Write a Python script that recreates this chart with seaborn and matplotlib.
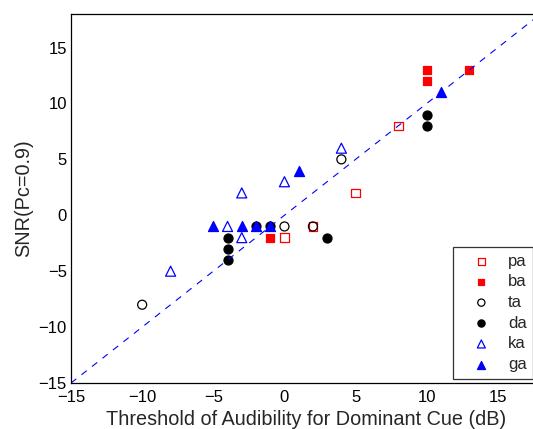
import matplotlib
matplotlib.use("Agg")
import matplotlib.pyplot as plt
import seaborn as sns
import pandas as pd
import numpy as np

sns.set_theme(style="white")
plt.rcParams['font.family'] = ['Liberation Sans', 'DejaVu Sans']

pa_x = [0, 2, 5, 8]
pa_y = [-2, -1, 2, 8]
ba_x = [-1, 10, 10, 13]
ba_y = [-2, 13, 12, 13]
ta_x = [-10, 0, 2, 4]
ta_y = [-8, -1, -1, 5]
da_x = [-4, -4, -4, -2, -1, 3, 10, 10]
da_y = [-2, -3, -4, -1, -1, -2, 9, 8]
ka_x = [-8, -4, -3, -3, 0, 4]
ka_y = [-5, -1, 2, -2, 3, 6]
ga_x = [-5, -3, -2, -1, 1, 11]
ga_y = [-1, -1, -1, -1, 4, 11]
diag = [-15, 18]

series = [
    ("pa", pa_x, pa_y, "s", "red", False),
    ("ba", ba_x, ba_y, "s", "red", True),
    ("ta", ta_x, ta_y, "o", "black", False),
    ("da", da_x, da_y, "o", "black", True),
    ("ka", ka_x, ka_y, "^", "blue", False),
    ("ga", ga_x, ga_y, "^", "blue", True),
]
sizes = {"s": 38, "o": 42, "^": 52}

fig = plt.figure(figsize=(5.33, 4.29), dpi=100)
ax_w = 33 * 14.23
ax = fig.add_axes([71/533, 46/429, ax_w/533, 369/429])

sns.lineplot(x=diag, y=diag, ax=ax, color="blue", linestyle=(0, (6, 6)), linewidth=0.8, legend=False)

for name, xs, ys, m, c, filled in series:
    df = pd.DataFrame({"x": xs, "y": ys})
    sns.scatterplot(data=df, x="x", y="y", ax=ax, marker=m, s=sizes[m],
                    facecolor=(c if filled else "none"), edgecolor=c,
                    linewidth=0.9, label=name)

ax.set_xlim(-15, 18)
ax.set_ylim(-15, 18)
ax.set_xticks([-15, -10, -5, 0, 5, 10, 15])
ax.set_yticks([-15, -10, -5, 0, 5, 10, 15])
ax.tick_params(direction="in", length=4, width=0.8, labelsize=12, colors="black", pad=3)
ax.tick_params(axis="x", pad=5)
for sp in ax.spines.values():
    sp.set_color("black")
    sp.set_linewidth(0.9)
ax.set_xlabel("Threshold of Audibility for Dominant Cue (dB)", fontsize=14.3, labelpad=3.5)
ax.set_ylabel("SNR(Pc=0.9)", fontsize=14.3, labelpad=4)

leg = ax.legend(loc="upper left", bbox_to_anchor=((453-71)/ax_w, 1 - (247-14)/369),
                borderaxespad=0, frameon=True, fancybox=False, edgecolor="black", fontsize=12,
                handletextpad=0.3, borderpad=0.4, labelspacing=0.34, markerscale=0.8,
                handlelength=2.6)
leg.get_frame().set_linewidth(0.9)

fig.savefig("out.png", dpi=100)
